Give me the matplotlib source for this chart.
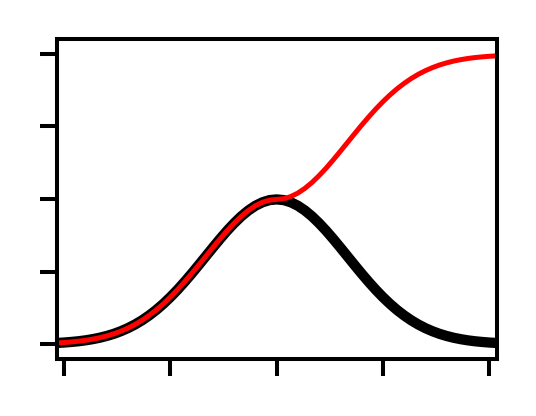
import matplotlib
matplotlib.use("Agg")
import matplotlib.pyplot as plt

# x positions
x = [-3.2, -3.1, -3.0, -2.9, -2.8, -2.7, -2.6, -2.5, -2.4, -2.3, -2.2, -2.1,
     -2.0, -1.9, -1.8, -1.7, -1.6, -1.5, -1.4, -1.3, -1.2, -1.1, -1.0, -0.9,
     -0.8, -0.7, -0.6, -0.5, -0.4, -0.3, -0.2, -0.1, 0.0,
     0.1, 0.2, 0.3, 0.4, 0.5, 0.6, 0.7, 0.8, 0.9, 1.0, 1.1, 1.2, 1.3, 1.4,
     1.5, 1.6, 1.7, 1.8, 1.9, 2.0, 2.1, 2.2, 2.3, 2.4, 2.5, 2.6, 2.7, 2.8,
     2.9, 3.0, 3.1, 3.2]

# black bell-shaped curve
black_y = [0.0024, 0.0033, 0.0044, 0.0060, 0.0079, 0.0104, 0.0136, 0.0175,
           0.0224, 0.0283, 0.0355, 0.0440, 0.0540, 0.0656, 0.0790, 0.0940,
           0.1109, 0.1295, 0.1497, 0.1714, 0.1942, 0.2179, 0.2420, 0.2661,
           0.2897, 0.3123, 0.3332, 0.3521, 0.3683, 0.3814, 0.3910, 0.3970,
           0.3989,
           0.3970, 0.3910, 0.3814, 0.3683, 0.3521, 0.3332, 0.3123, 0.2897,
           0.2661, 0.2420, 0.2179, 0.1942, 0.1714, 0.1497, 0.1295, 0.1109,
           0.0940, 0.0790, 0.0656, 0.0540, 0.0440, 0.0355, 0.0283, 0.0224,
           0.0175, 0.0136, 0.0104, 0.0079, 0.0060, 0.0044, 0.0033, 0.0024]

# red curve: follows the bell on the left, rises to a plateau on the right
red_y = [0.0024, 0.0033, 0.0044, 0.0060, 0.0079, 0.0104, 0.0136, 0.0175,
         0.0224, 0.0283, 0.0355, 0.0440, 0.0540, 0.0656, 0.0790, 0.0940,
         0.1109, 0.1295, 0.1497, 0.1714, 0.1942, 0.2179, 0.2420, 0.2661,
         0.2897, 0.3123, 0.3332, 0.3521, 0.3683, 0.3814, 0.3910, 0.3970,
         0.3989,
         0.4008, 0.4068, 0.4164, 0.4295, 0.4457, 0.4646, 0.4855, 0.5081,
         0.5317, 0.5558, 0.5799, 0.6036, 0.6264, 0.6481, 0.6683, 0.6869,
         0.7038, 0.7188, 0.7322, 0.7438, 0.7538, 0.7623, 0.7695, 0.7754,
         0.7803, 0.7842, 0.7874, 0.7899, 0.7918, 0.7934, 0.7945, 0.7954]

x_ticks = [-3, -1.5, 0, 1.5, 3]
y_ticks = [0.0, 0.2, 0.4, 0.6, 0.8]

fig = plt.figure(figsize=(5.36, 4.16), dpi=100)
ax = fig.add_axes([0.1063, 0.1370, 0.8209, 0.7692])

ax.plot(x, black_y, color="black", lw=7.4, solid_capstyle="butt", solid_joinstyle="round")
ax.plot(x, red_y, color="red", lw=3.6, solid_capstyle="butt", solid_joinstyle="round")

ax.set_xlim(-3.1, 3.11)
ax.set_ylim(-0.041, 0.841)
ax.set_xticks(x_ticks)
ax.set_yticks(y_ticks)
ax.set_xticklabels([])
ax.set_yticklabels([])
ax.tick_params(direction="out", length=12, width=2.9, color="black")
for s in ax.spines.values():
    s.set_linewidth(2.9)
    s.set_color("black")

fig.savefig("out.png", dpi=100, facecolor="white")
